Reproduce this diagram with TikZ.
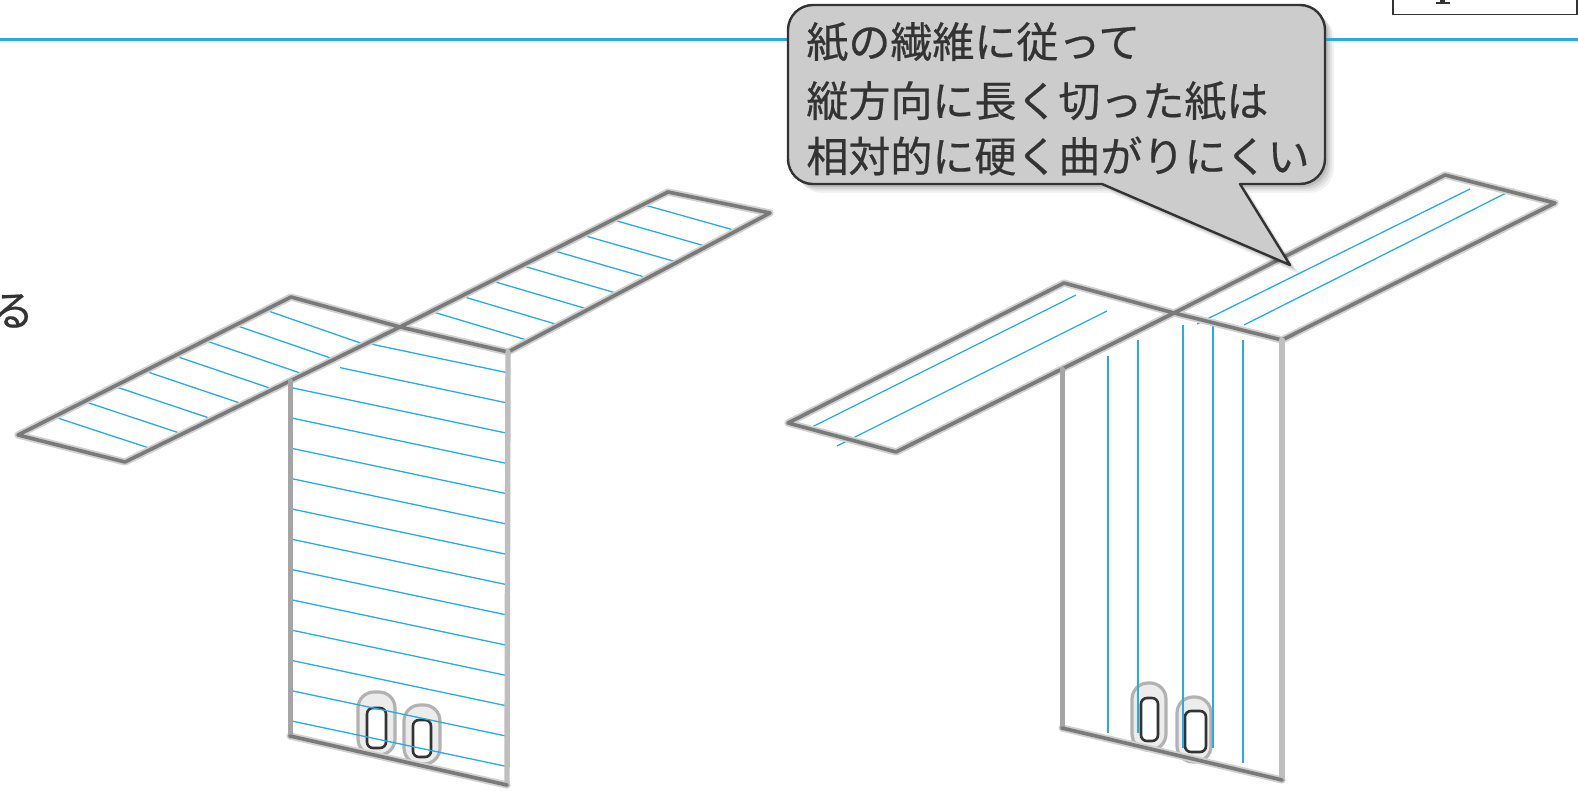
\documentclass[tikz,border=0pt]{standalone}
\usepackage{fontspec}
\newfontfamily\jpfont[FakeBold=0.5]{Noto Sans CJK JP}
\usetikzlibrary{calc}
\definecolor{fiber}{HTML}{29ABE2}
\definecolor{rulecol}{HTML}{29A8E0}
\definecolor{edgecol}{HTML}{7A7A7A}
\definecolor{edgehalo}{HTML}{D0D0D0}
\definecolor{sidecol}{HTML}{A5A5A5}
\definecolor{sidecolb}{HTML}{BEBEBE}
\definecolor{bubblefill}{HTML}{CCCCCC}
\definecolor{ink}{HTML}{333333}

% outline of the speech bubble (image-style coordinates, y grows downwards)
\def\bubblepath{(1102,184) -- (1290,265) -- (1240,184) -- (1300,184)
  arc[start angle=90,end angle=0,radius=25] -- (1325,30)
  arc[start angle=0,end angle=-90,radius=25] -- (813,5)
  arc[start angle=-90,end angle=-180,radius=25] -- (788,159)
  arc[start angle=180,end angle=90,radius=25] -- cycle}

\begin{document}
\begin{tikzpicture}[x=0.5pt,y=-0.5pt,
  fiberline/.style={draw=fiber,line width=0.65pt},
  wingglow/.style={draw=edgehalo,line width=3.6pt,line join=round,line cap=round},
  wingedge/.style={draw=edgecol,line width=1.8pt,line join=round,line cap=round},
  sideedge/.style={draw=sidecol,line width=2.5pt,line cap=round},
  sideedgeb/.style={draw=sidecolb,line width=2.7pt,line cap=round},
  clipouter/.style={draw=gray!60,line width=1.6pt,fill=gray!15,rounded corners=8pt},
  clipinner/.style={draw=gray!40!black,line width=1.3pt,fill=white,rounded corners=3pt},
  jptext/.style={font=\jpfont\fontsize{21pt}{26pt}\selectfont,text=ink,inner sep=0pt}]

\useasboundingbox (0,0) rectangle (1578,791);

% ---------- left sample: grain across the strip ----------
\coordinate (LA) at (18,435);
\coordinate (LB) at (291,297);
\coordinate (LC) at (400,327);
\coordinate (LD) at (125,462);
\coordinate (LF) at (668,192);
\coordinate (LG) at (770,213);
\coordinate (LH) at (508,352);
\coordinate (LP1) at (290,381);
\coordinate (LP2) at (290,736);
\coordinate (LP3) at (507,785);

% clips at the foot of the panel
\draw[clipouter] (358,692) rectangle (395,755);
\draw[clipinner] (367,708) rectangle (386,748);
\draw[clipouter] (404,705) rectangle (440,764);
\draw[clipinner] (413,720) rectangle (431,757);

% fibres in the wings
\foreach \t in {0.132,0.243,0.353,0.464,0.574,0.685,0.796,0.906}
  \draw[fiberline] ($(LA)!\t!(LB)$) -- ($(LD)!\t-0.035!(LC)$);
\foreach \t in {0.116,0.229,0.342,0.455,0.568,0.681,0.794,0.907}
  \draw[fiberline] ($(LC)!\t!(LF)$) -- ($(LH)!\t-0.035!(LG)$);

% fibres in the hanging panel
\begin{scope}
  \clip (292,381) -- (400,328) -- (506,353) -- (506,786) -- (292,736) -- cycle;
  \draw[fiberline] (363,{388-2*30.3+0.211*71}) -- (506,{433-2*30.3});
  \draw[fiberline] (340,{388-30.3+0.211*47}) -- (506,{433-30.3});
  \foreach \k in {0,...,11}
    \draw[fiberline] (293,{388+30.3*\k}) -- (506,{433+30.3*\k});
\end{scope}

% outlines
\draw[wingglow] (LA) -- (LB) -- (LC) -- (LD) -- cycle;
\draw[wingglow] (LC) -- (LF) -- (LG) -- (LH) -- cycle;
\draw[wingglow] (LP2) -- (LP3);
\draw[wingedge] (LA) -- (LB) -- (LC) -- (LD) -- cycle;
\draw[wingedge] (LC) -- (LF) -- (LG) -- (LH) -- cycle;
\draw[sideedge] (LP1) -- (LP2);
\draw[sideedgeb] (LH) -- (LP3);
\draw[wingedge] (LP2) -- (LP3);

% ---------- right sample: grain along the strip ----------
\coordinate (RA) at (788,423);
\coordinate (RB) at (1064,283);
\coordinate (RC) at (1174,313);
\coordinate (RD) at (896,452);
\coordinate (RF) at (1445,175);
\coordinate (RG) at (1555,203);
\coordinate (RH) at (1282,340);
\coordinate (RP1) at (1062,369);
\coordinate (RP2) at (1062,728);
\coordinate (RP3) at (1282,780);

\draw[clipouter] (1132,683) rectangle (1166,750);
\draw[clipinner] (1141,698) rectangle (1158,741);
\draw[clipouter] (1177,697) rectangle (1211,762);
\draw[clipinner] (1185,711) rectangle (1206,752);

\draw[fiberline] (806,430) -- (1076,295);
\draw[fiberline] (837,446) -- (1107,311);
\draw[fiberline] (1197,324) -- (1470,189);
\draw[fiberline] (1244,325) -- (1514,189);

\draw[fiberline] (1108,356) -- (1108,733);
\draw[fiberline] (1138,340) -- (1138,733);
\draw[fiberline] (1183,325) -- (1183,748);
\draw[fiberline] (1213,325) -- (1213,748);
\draw[fiberline] (1243,340) -- (1243,763);

\draw[wingglow] (RA) -- (RB) -- (RC) -- (RD) -- cycle;
\draw[wingglow] (RC) -- (RF) -- (RG) -- (RH) -- cycle;
\draw[wingglow] (RP2) -- (RP3);
\draw[wingedge] (RA) -- (RB) -- (RC) -- (RD) -- cycle;
\draw[wingedge] (RC) -- (RF) -- (RG) -- (RH) -- cycle;
\draw[sideedge] (RP1) -- (RP2);
\draw[sideedgeb] (RH) -- (RP3);
\draw[wingedge] (RP2) -- (RP3);

% ---------- heading rule, corner box, cut-off word ----------
\foreach \s/\o in {9/0.05,7/0.06,5/0.08,3/0.10}
  \fill[black,opacity=\o,shift={(\s,\s)}] \bubblepath;
\draw[rulecol,line width=1.5pt] (0,40) -- (1578,40);

\draw[ink,line width=0.8pt,fill=white] (1393,-5) rectangle (1577,14.5);
\fill[ink] (1440,-2) rectangle (1445,3);
\fill[ink] (1436,2) rectangle (1450,4.5);

\node[jptext,anchor=center] (tailchar) at (13,311) {る};

% ---------- speech bubble ----------
\path[fill=bubblefill,draw=ink,line width=1.2pt,line join=round] \bubblepath;
\node[jptext,anchor=west] (bline1) at (806,42) {紙の繊維に従って};
\node[jptext,anchor=west] (bline2) at (806,101) {縦方向に長く切った紙は};
\node[jptext,anchor=west] (bline3) at (806,156) {相対的に硬く曲がりにくい};

\end{tikzpicture}
\end{document}
